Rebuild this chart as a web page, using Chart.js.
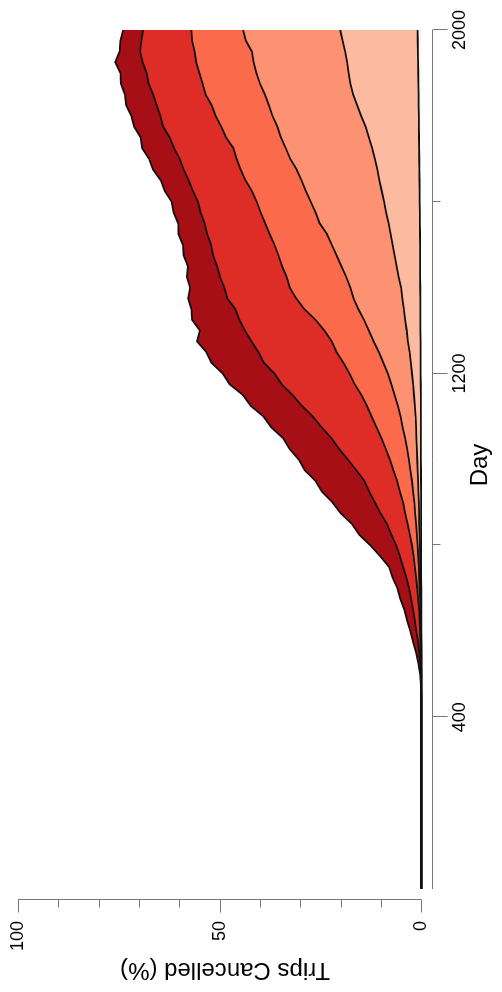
<!DOCTYPE html>
<html>
<head>
<meta charset="utf-8">
<script src="https://cdn.jsdelivr.net/npm/chart.js@4.4.0/dist/chart.umd.min.js"></script>
<style>
  html, body { margin: 0; padding: 0; background: #fff; overflow: hidden; }
  /* the plot is drawn upright, then turned a quarter left like the photo */
  #wrap { position: absolute; left: 0; top: 0; width: 992px; height: 502px;
          transform-origin: 0 0; transform: translate(0, 992px) rotate(-90deg); }
</style>
</head>
<body>
<div id="wrap"><canvas id="chart" width="992" height="502"></canvas></div>
<script>
const days = [
  0, 450, 475, 500, 525, 550, 575, 600,
  625, 650, 675, 700, 725, 750, 775, 800,
  825, 850, 875, 900, 925, 950, 975, 1000,
  1025, 1050, 1075, 1100, 1125, 1150, 1175, 1200,
  1225, 1250, 1275, 1300, 1325, 1350, 1375, 1400,
  1425, 1450, 1475, 1500, 1525, 1550, 1575, 1600,
  1625, 1650, 1675, 1700, 1725, 1750, 1775, 1800,
  1825, 1850, 1875, 1900, 1925, 1950, 1975, 2000
];

// cumulative % cancelled, lowest boundary first
const level1 = [
  0, 0, 0, 0, 0, 0, 0, 0,
  0, 0, 0, 0.01, 0.02, 0.02, 0.03, 0.03,
  0.04, 0.04, 0.05, 0.05, 0.06, 0.07, 0.07, 0.08,
  0.09, 0.09, 0.1, 0.1, 0.11, 0.12, 0.13, 0.15,
  0.16, 0.17, 0.18, 0.2, 0.21, 0.22, 0.24, 0.25,
  0.26, 0.28, 0.29, 0.3, 0.32, 0.34, 0.36, 0.4,
  0.42, 0.44, 0.47, 0.5, 0.53, 0.56, 0.58, 0.6,
  0.64, 0.67, 0.71, 0.75, 0.79, 0.83, 0.87, 0.9
];
const level2 = [
  0, 0, 0, 0, 0, 0, 0, 0.03,
  0.05, 0.08, 0.1, 0.15, 0.2, 0.25, 0.3, 0.35,
  0.4, 0.5, 0.55, 0.6, 0.7, 0.8, 0.9, 1.0,
  1.1, 1.2, 1.3, 1.4, 1.6, 1.8, 2.0, 2.3,
  2.6, 2.9, 3.3, 3.6, 4.0, 4.3, 4.7, 5.0,
  5.6, 6.1, 6.6, 7.1, 7.6, 8.1, 8.7, 9.2,
  9.8, 10.4, 10.9, 11.5, 12.2, 13.0, 13.8, 14.9,
  15.9, 16.9, 17.6, 18.0, 18.4, 18.9, 19.5, 20.1
];
const level3 = [
  0, 0, 0, 0, 0, 0, 0.05, 0.1,
  0.15, 0.2, 0.3, 0.4, 0.5, 0.6, 0.75, 0.9,
  1.1, 1.3, 1.5, 1.7, 2.0, 2.3, 2.7, 3.1,
  3.5, 4.0, 4.6, 5.1, 5.8, 6.6, 7.4, 8.3,
  9.4, 10.5, 11.8, 13.0, 14.2, 15.6, 16.8, 17.6,
  18.6, 19.8, 21.0, 22.2, 23.4, 25.2, 26.2, 27.4,
  28.6, 29.7, 30.9, 32.5, 33.6, 34.8, 35.7, 36.9,
  37.8, 38.8, 40.0, 40.9, 41.6, 42.0, 43.5, 44.2
];
const level4 = [
  0, 0, 0, 0, 0.05, 0.1, 0.2, 0.3,
  0.4, 0.55, 0.8, 1.0, 1.3, 1.6, 1.9, 2.3,
  2.8, 3.4, 4.0, 4.5, 5.3, 6.0, 6.9, 7.8,
  8.8, 9.9, 11.1, 12.3, 13.5, 14.8, 16.5, 17.8,
  19.3, 21.0, 22.2, 24.0, 26.2, 29.0, 31.0, 32.6,
  33.4, 34.5, 35.4, 36.4, 37.6, 38.7, 39.8, 40.8,
  42.0, 43.6, 44.8, 45.8, 46.6, 48.4, 49.6, 51.0,
  52.0, 53.5, 54.2, 55.0, 55.8, 56.2, 56.8, 57.0
];
const level5 = [
  0, 0, 0.05, 0.15, 0.3, 0.5, 0.8, 1.2,
  1.6, 2.0, 2.5, 3.0, 3.7, 4.5, 5.3, 6.2,
  7.4, 8.5, 10.1, 11.5, 12.9, 14.1, 16.1, 18.2,
  20.4, 22.3, 24.7, 26.9, 29.6, 31.9, 34.6, 36.4,
  39.0, 40.4, 42.1, 43.7, 45.1, 46.1, 48.1, 48.8,
  49.9, 50.6, 51.6, 52.1, 53.1, 53.7, 54.7, 55.4,
  56.6, 57.7, 58.9, 59.9, 61.3, 62.4, 64.0, 64.7,
  65.6, 66.5, 67.6, 68.1, 69.1, 69.7, 69.4, 69.0
];
const level6 = [
  0, 0, 0.1, 0.3, 0.7, 1.3, 2.0, 2.7,
  3.5, 4.2, 5.2, 5.9, 7.1, 8.0, 10.2, 12.6,
  15.4, 17.2, 20.0, 22.0, 24.6, 26.2, 28.9, 30.4,
  32.7, 34.3, 37.2, 39.1, 42.3, 44.2, 47.5, 49.2,
  52.0, 53.3, 55.6, 54.9, 56.8, 57.0, 57.8, 57.3,
  58.1, 57.9, 58.9, 59.1, 60.2, 60.3, 61.4, 61.9,
  63.6, 64.6, 66.5, 67.5, 69.2, 69.6, 71.2, 71.9,
  73.2, 73.5, 74.5, 74.6, 75.9, 74.8, 74.6, 73.9
];

const levels = [level1, level2, level3, level4, level5, level6];
const bandColors = ['#FFF5F0', '#FCBBA1', '#FC9272', '#FB6A4A', '#DE2D26', '#A50F15'];

const dayTicks = [400, 800, 1200, 1600, 2000];
const dayTickLabels = ['400', '', '1200', '', '2000'];
const pctTicks = [0, 10, 20, 30, 40, 50, 60, 70, 80, 90, 100];
const pctTickLabels = ['0', '', '', '', '', '50', '', '', '', '', '100'];

Chart.defaults.font.family = "'Liberation Sans', Arial, sans-serif";
Chart.defaults.color = '#000';

// R style axes: detached lines, long ticks where labelled
const rAxes = {
    id: 'rAxes',
    afterDraw(chart) {
        const ctx = chart.ctx;
        const x = chart.scales.x;
        const y = chart.scales.y;
        const area = chart.chartArea;
        ctx.save();
        ctx.strokeStyle = '#777';
        ctx.lineWidth = 1;
        ctx.beginPath();
        const by = Math.round(area.bottom) + 0.5;
        ctx.moveTo(x.getPixelForValue(0), by);
        ctx.lineTo(x.getPixelForValue(dayTicks[dayTicks.length - 1]), by);
        dayTicks.forEach((d, i) => {
            const px = Math.round(x.getPixelForValue(d)) + 0.5;
            ctx.moveTo(px, by);
            ctx.lineTo(px, by + (dayTickLabels[i] ? 15 : 8));
        });
        const lx = Math.round(area.left) + 0.5;
        ctx.moveTo(lx, y.getPixelForValue(pctTicks[0]));
        ctx.lineTo(lx, y.getPixelForValue(pctTicks[pctTicks.length - 1]));
        pctTicks.forEach((p, i) => {
            const py = Math.round(y.getPixelForValue(p)) + 0.5;
            ctx.moveTo(lx, py);
            ctx.lineTo(lx - (pctTickLabels[i] ? 13 : 8), py);
        });
        ctx.stroke();
        ctx.restore();
    }
};

// keep the plot box fixed: no extra room for the end labels
const noPad = s => {
    s.paddingTop = 0;
    s.paddingBottom = 0;
    s.paddingLeft = 0;
    s.paddingRight = 0;
};

const datasets = levels.map((vals, i) => ({
    label: 'level ' + (i + 1),
    data: days.map((d, j) => ({ x: d, y: vals[j] })),
    borderColor: '#111',
    borderWidth: 1.8,
    backgroundColor: bandColors[i],
    fill: i === 0 ? 'origin' : '-1',
    pointRadius: 0,
    tension: 0
}));

new Chart(document.getElementById('chart'), {
    type: 'line',
    data: { datasets: datasets },
    options: {
        responsive: false,
        animation: false,
        devicePixelRatio: 1,
        layout: { padding: { top: 18, right: 30, left: 0, bottom: 0 } },
        plugins: {
            legend: { display: false },
            tooltip: { enabled: false },
            filler: { drawTime: 'beforeDatasetsDraw' }
        },
        scales: {
            x: {
                type: 'linear',
                min: -25.6,
                max: 2000,
                afterFit: s => { s.height = 70; noPad(s); },
                afterBuildTicks: s => { s.ticks = dayTicks.map(v => ({ value: v })); },
                grid: { display: false, drawTicks: false },
                border: { display: false },
                ticks: {
                    autoSkip: false,
                    maxRotation: 0,
                    padding: 17,
                    font: { size: 18 },
                    callback: (v, i) => dayTickLabels[i]
                },
                title: { display: true, text: 'Day', font: { size: 24 }, padding: { top: 0, bottom: 7 } }
            },
            y: {
                type: 'linear',
                min: -2.66,
                max: 100,
                afterFit: s => { s.width = 92; noPad(s); },
                afterBuildTicks: s => { s.ticks = pctTicks.map(v => ({ value: v })); },
                grid: { display: false, drawTicks: false },
                border: { display: false },
                ticks: {
                    autoSkip: false,
                    padding: 21,
                    font: { size: 18 },
                    callback: (v, i) => pctTickLabels[i]
                },
                title: { display: true, text: 'Trips Cancelled (%)', font: { size: 24 }, padding: { top: 8, bottom: 0 } }
            }
        }
    },
    plugins: [rAxes]
});
</script>
</body>
</html>
